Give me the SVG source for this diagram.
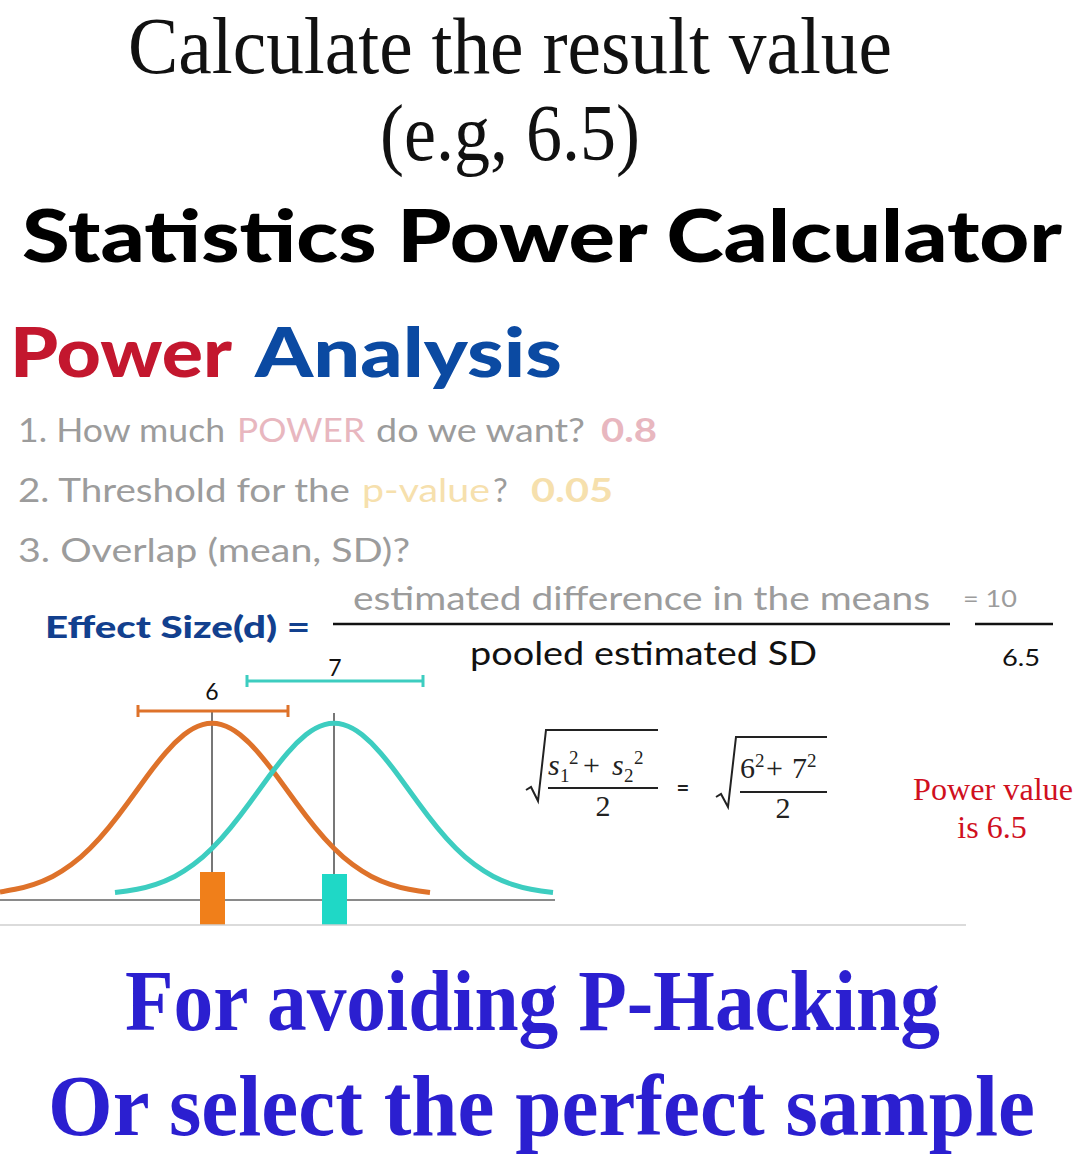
<svg xmlns="http://www.w3.org/2000/svg" width="1080" height="1173" viewBox="0 0 1080 1173">
<style>
.ttl{font-family:"Liberation Serif","DejaVu Serif",serif;fill:#111;font-size:80px}
.big{font-family:Lato,"Liberation Sans",sans-serif;font-weight:900}
.li{font-family:Lato,"Open Sans",sans-serif;font-size:33px;fill:#9c9c9c}
.pink{fill:#e8b7bf}
.yel{fill:#f6e0ad}
.frm{font-family:"Liberation Serif","DejaVu Serif",serif;fill:#222}
.btm{font-family:"Liberation Serif","DejaVu Serif",serif;font-weight:bold;font-size:86px;fill:#2b1fd0}
.curve{fill:none;stroke-width:5;stroke-linejoin:round;stroke-linecap:butt}
</style>
<rect width="1080" height="1173" fill="#ffffff"/>
<g id="header">
<text class="ttl" x="128" y="73" textLength="764" lengthAdjust="spacingAndGlyphs">Calculate the result value</text>
<text class="ttl" x="380" y="160" textLength="260" lengthAdjust="spacingAndGlyphs">(e.g, 6.5)</text>
<text class="big" x="22" y="262" font-size="72" fill="#000" textLength="1040" lengthAdjust="spacingAndGlyphs">Statistics Power Calculator</text>
</g>
<g id="power-analysis">
<text class="big" x="10" y="377" font-size="68" fill="#c3172e" textLength="222" lengthAdjust="spacingAndGlyphs">Power</text>
<text class="big" x="255" y="377" font-size="68" fill="#0b4aa2" textLength="307" lengthAdjust="spacingAndGlyphs">Analysis</text>
</g>
<g id="questions">
<text class="li" x="18" y="442" textLength="207" lengthAdjust="spacingAndGlyphs">1. How much</text>
<text class="li pink" x="237" y="442" textLength="128" lengthAdjust="spacingAndGlyphs">POWER</text>
<text class="li" x="376" y="442" textLength="209" lengthAdjust="spacingAndGlyphs">do we want?</text>
<text class="li pink" x="601" y="442" font-weight="bold" textLength="56" lengthAdjust="spacingAndGlyphs">0.8</text>
<text class="li" x="18" y="502" textLength="332" lengthAdjust="spacingAndGlyphs">2. Threshold for the</text>
<text class="li yel" x="362" y="502" textLength="128" lengthAdjust="spacingAndGlyphs">p-value</text>
<text class="li" x="493" y="502">?</text>
<text class="li yel" x="531" y="502" font-weight="bold" textLength="82" lengthAdjust="spacingAndGlyphs">0.05</text>
<text class="li" x="18" y="562" textLength="392" lengthAdjust="spacingAndGlyphs">3. Overlap (mean, SD)?</text>
</g>
<g id="effect-size">
<text class="big" x="45" y="638" font-size="30" fill="#12408e" textLength="265" lengthAdjust="spacingAndGlyphs">Effect Size(d) =</text>
<text class="li" x="353" y="610" textLength="577" lengthAdjust="spacingAndGlyphs">estimated difference in the means</text>
<line x1="333" y1="624" x2="950" y2="624" stroke="#111" stroke-width="2.5"/>
<text x="470" y="665" font-family="Lato,'Open Sans',sans-serif" font-size="32" fill="#111" textLength="347" lengthAdjust="spacingAndGlyphs">pooled estimated SD</text>
<text x="963" y="607" font-family="Lato,'Open Sans',sans-serif" font-size="24" fill="#9c9c9c" textLength="54" lengthAdjust="spacingAndGlyphs">= 10</text>
<line x1="975" y1="624" x2="1053" y2="624" stroke="#111" stroke-width="2.5"/>
<text x="1002" y="666" font-family="Lato,'Open Sans',sans-serif" font-size="23" fill="#111" textLength="38" lengthAdjust="spacingAndGlyphs">6.5</text>
</g>
<g id="distributions">
<line x1="0" y1="900" x2="555" y2="900" stroke="#8a8a8a" stroke-width="2"/>
<line x1="212" y1="712" x2="212" y2="900" stroke="#777" stroke-width="2"/>
<line x1="334" y1="713" x2="334" y2="900" stroke="#777" stroke-width="2"/>
<path class="curve" stroke="#de722a" d="M0,892 Q5.75,891.1 15.125,889.25 Q24.5,887.4 33.875,884.3 Q43.25,881.2 52.625,876.4 Q62,871.6 71.375,864.6 Q80.75,857.6 90.125,848.2 Q99.5,838.8 108.875,827.3 Q118.25,815.8 127.625,802.95 Q137,790.1 146.375,777.25 Q155.75,764.4 165.125,753.35 Q174.5,742.3 183.875,734.8 Q193.25,727.3 202.625,724.65 Q212,722 221.375,724.65 Q230.75,727.3 240.125,734.8 Q249.5,742.3 258.875,753.35 Q268.25,764.4 277.625,777.25 Q287,790.1 296.375,802.95 Q305.75,815.8 315.125,827.3 Q324.5,838.8 333.875,848.2 Q343.25,857.6 352.625,864.6 Q362,871.6 371.375,876.4 Q380.75,881.2 390.125,884.3 Q399.5,887.4 408.875,889.25 Q418.25,891.1 430,892.5"/>
<path class="curve" stroke="#3dcdc0" d="M115,892.5 Q127.75,891.1 137.125,889.25 Q146.5,887.4 155.875,884.3 Q165.25,881.2 174.625,876.4 Q184,871.6 193.375,864.6 Q202.75,857.6 212.125,848.2 Q221.5,838.8 230.875,827.3 Q240.25,815.8 249.625,802.95 Q259,790.1 268.375,777.25 Q277.75,764.4 287.125,753.35 Q296.5,742.3 305.875,734.8 Q315.25,727.3 324.625,724.65 Q334,722 343.375,724.65 Q352.75,727.3 362.125,734.8 Q371.5,742.3 380.875,753.35 Q390.25,764.4 399.625,777.25 Q409,790.1 418.375,802.95 Q427.75,815.8 437.125,827.3 Q446.5,838.8 455.875,848.2 Q465.25,857.6 474.625,864.6 Q484,871.6 493.375,876.4 Q502.75,881.2 512.125,884.3 Q521.5,887.4 530.875,889.25 Q540.25,891.1 553,892.5"/>
<rect x="200" y="872" width="25" height="53" fill="#f07f1a"/>
<rect x="322" y="874" width="25" height="51" fill="#1fd8c6"/>
<g stroke="#de722a" stroke-width="3" fill="none">
<line x1="138" y1="711" x2="288" y2="711"/><line x1="138" y1="705" x2="138" y2="717"/><line x1="288" y1="705" x2="288" y2="717"/>
</g>
<g stroke="#3dcdc0" stroke-width="3" fill="none">
<line x1="247" y1="681" x2="423" y2="681"/><line x1="247" y1="675" x2="247" y2="687"/><line x1="423" y1="675" x2="423" y2="687"/>
</g>
<text x="212" y="700" font-family="Lato,'Open Sans',sans-serif" font-size="23" fill="#111" text-anchor="middle">6</text>
<text x="335" y="676" font-family="Lato,'Open Sans',sans-serif" font-size="23" fill="#111" text-anchor="middle">7</text>
<line x1="0" y1="925" x2="966" y2="925" stroke="#cfcfcf" stroke-width="1.5"/>
</g>
<g id="pooled-sd-formula">
<path d="M526,790 L531,787 L538,801 L546,730 L658,730" fill="none" stroke="#222" stroke-width="2"/>
<text class="frm" font-size="30"><tspan x="548" y="775" font-style="italic">s</tspan><tspan x="560" y="782" font-size="19">1</tspan><tspan x="569" y="764" font-size="19">2</tspan><tspan x="583" y="775">+</tspan><tspan x="612" y="775" font-style="italic">s</tspan><tspan x="624" y="782" font-size="19">2</tspan><tspan x="634" y="764" font-size="19">2</tspan></text>
<line x1="548" y1="788" x2="658" y2="788" stroke="#222" stroke-width="2"/>
<text class="frm" x="603" y="816" font-size="30" text-anchor="middle">2</text>
<text x="683" y="796" font-family="Lato,'Open Sans',sans-serif" font-weight="bold" font-size="22" fill="#222" text-anchor="middle">=</text>
<path d="M716,797 L721,794 L728,807 L736,737 L827,737" fill="none" stroke="#222" stroke-width="2"/>
<text class="frm" font-size="30"><tspan x="740" y="778">6</tspan><tspan x="755" y="767" font-size="19">2</tspan><tspan x="766" y="778">+</tspan><tspan x="792" y="778">7</tspan><tspan x="807" y="767" font-size="19">2</tspan></text>
<line x1="740" y1="792" x2="827" y2="792" stroke="#222" stroke-width="2"/>
<text class="frm" x="783" y="818" font-size="30" text-anchor="middle">2</text>
</g>
<g id="power-value-note">
<text class="frm" x="993" y="800" font-size="32" text-anchor="middle" textLength="160" lengthAdjust="spacingAndGlyphs" style="fill:#d0101e">Power value</text>
<text class="frm" x="992" y="838" font-size="32" text-anchor="middle" style="fill:#d0101e">is 6.5</text>
</g>
<g id="footer">
<text class="btm" x="125" y="1030" textLength="815" lengthAdjust="spacingAndGlyphs">For avoiding P-Hacking</text>
<text class="btm" x="48" y="1135" textLength="987" lengthAdjust="spacingAndGlyphs">Or select the perfect sample</text>
</g>
</svg>
